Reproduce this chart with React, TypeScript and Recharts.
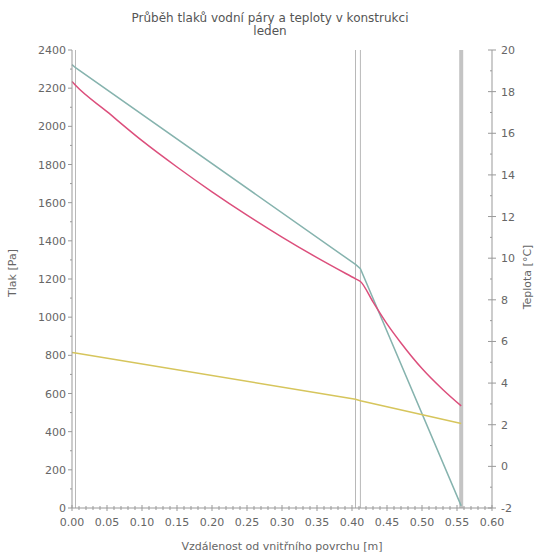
import React from "react";
import { ComposedChart, Line, XAxis, YAxis, ReferenceLine } from "recharts";

// Temperature profile (°C)
const tempX = [0, 0.005, 0.405, 0.412, 0.556];
const tempVals = [19.3, 19.15, 9.7, 9.5, -1.9];

// Saturated vapour pressure (Pa)
const satX = [0, 0.005, 0.05, 0.1, 0.15, 0.2, 0.25, 0.3, 0.35, 0.405, 0.412, 0.43, 0.45, 0.47, 0.5, 0.53, 0.556];
const satVals = [2235, 2215, 2077, 1925, 1787, 1657, 1535, 1420, 1312, 1201, 1187, 1080, 965, 865, 731, 620, 535];

// Partial vapour pressure (Pa)
const partX = [0, 0.005, 0.405, 0.412, 0.556];
const partVals = [815, 812, 570, 562, 443];

// Layer boundaries (m)
const boundaries = [0.005, 0.405, 0.412];
const lastBoundary = 0.556;

const xMajor = [0, 0.05, 0.1, 0.15, 0.2, 0.25, 0.3, 0.35, 0.4, 0.45, 0.5, 0.55, 0.6];
const leftMajor = [0, 200, 400, 600, 800, 1000, 1200, 1400, 1600, 1800, 2000, 2200, 2400];
const rightMajor = [-2, 0, 2, 4, 6, 8, 10, 12, 14, 16, 18, 20];

const title1 = "Průběh tlaků vodní páry a teploty v konstrukci";
const title2 = "leden";
const xLabel = "Vzdálenost od vnitřního povrchu [m]";
const leftLabel = "Tlak [Pa]";
const rightLabel = "Teplota [°C]";

const zip = (xs: number[], ys: number[]) => xs.map((x, i) => ({ x, v: ys[i] }));
const tempData = zip(tempX, tempVals);
const satData = zip(satX, satVals);
const partData = zip(partX, partVals);

const xTicks: number[] = [];
for (let i = 0; i <= 60; i++) xTicks.push(i / 100);
const leftTicks: number[] = [];
for (let i = 0; i <= 24; i++) leftTicks.push(i * 100);
const rightTicks: number[] = [];
for (let i = -2; i <= 20; i++) rightTicks.push(i);

const FONT = "DejaVu Sans, sans-serif";
const TXT = "#666";
const AX = "#999";

const isMajor = (v: number, list: number[]) => list.some((m) => Math.abs(m - v) < 1e-9);

const XTick = (p: any) => {
  const v = p.payload.value;
  const major = isMajor(v, xMajor);
  return (
    <g>
      <line x1={p.x} x2={p.x} y1={p.y - (major ? 3 : 2)} y2={p.y + (major ? 3 : 2)} stroke={AX} />
      {major && (
        <text x={p.x} y={p.y + 18} textAnchor="middle" fontSize={11} fill={TXT} fontFamily={FONT}>
          {v.toFixed(2)}
        </text>
      )}
    </g>
  );
};

const LTick = (p: any) => {
  const v = p.payload.value;
  const major = isMajor(v, leftMajor);
  return (
    <g>
      <line x1={p.x - (major ? 4 : 2)} x2={p.x} y1={p.y} y2={p.y} stroke={AX} />
      {major && (
        <text x={p.x - 6} y={p.y + 4} textAnchor="end" fontSize={11} fill={TXT} fontFamily={FONT}>
          {v}
        </text>
      )}
    </g>
  );
};

const RTick = (p: any) => {
  const v = p.payload.value;
  const major = isMajor(v, rightMajor);
  return (
    <g>
      <line x1={p.x - (major ? 4 : 2)} x2={p.x + (major ? 4 : 0)} y1={p.y} y2={p.y} stroke={AX} />
      {major && (
        <text x={p.x + 9} y={p.y + 4} textAnchor="start" fontSize={11} fill={TXT} fontFamily={FONT}>
          {v}
        </text>
      )}
    </g>
  );
};

export default function App() {
  return (
    <div style={{ position: "absolute", left: 0, top: 0, width: 537, height: 554, background: "#fff" }}>
      <ComposedChart width={537} height={554} margin={{ top: 50, right: 0, bottom: 16, left: 12 }}>
        <XAxis
          dataKey="x"
          type="number"
          domain={[0, 0.6]}
          ticks={xTicks}
          interval={0}
          tick={<XTick />}
          tickLine={false}
          tickSize={0}
          tickMargin={0}
          height={30}
          stroke={AX}
          allowDuplicatedCategory={false}
        />
        <YAxis
          yAxisId="left"
          orientation="left"
          type="number"
          domain={[0, 2400]}
          ticks={leftTicks}
          interval={0}
          tick={<LTick />}
          tickLine={false}
          tickSize={0}
          tickMargin={0}
          width={60}
          stroke={AX}
        />
        <YAxis
          yAxisId="right"
          orientation="right"
          type="number"
          domain={[-2, 20]}
          ticks={rightTicks}
          interval={0}
          tick={<RTick />}
          tickLine={false}
          tickSize={0}
          tickMargin={0}
          width={45}
          stroke={AX}
        />
        {boundaries.map((b) => (
          <ReferenceLine key={b} x={b} yAxisId="left" stroke="#b8b8b8" strokeWidth={1} />
        ))}
        <ReferenceLine x={lastBoundary} yAxisId="left" stroke="#c4c4c4" strokeWidth={4} />
        <Line
          yAxisId="right"
          data={tempData}
          dataKey="v"
          stroke="#86b3ae"
          strokeWidth={1.5}
          dot={false}
          isAnimationActive={false}
        />
        <Line
          yAxisId="left"
          data={satData}
          dataKey="v"
          type="monotone"
          stroke="#dc4f7c"
          strokeWidth={1.5}
          dot={false}
          isAnimationActive={false}
        />
        <Line
          yAxisId="left"
          data={partData}
          dataKey="v"
          stroke="#d6c55c"
          strokeWidth={1.5}
          dot={false}
          isAnimationActive={false}
        />
      </ComposedChart>
      <svg width={537} height={554} style={{ position: "absolute", left: 0, top: 0, pointerEvents: "none" }}>
        <text x={270} y={22} textAnchor="middle" fontSize={12} fill="#555" fontFamily={FONT}>
          {title1}
        </text>
        <text x={270} y={35} textAnchor="middle" fontSize={12} fill="#555" fontFamily={FONT}>
          {title2}
        </text>
        <text x={282} y={550} textAnchor="middle" fontSize={11} fill={TXT} fontFamily={FONT}>
          {xLabel}
        </text>
        <text
          x={0}
          y={0}
          transform="translate(16,273) rotate(-90)"
          textAnchor="middle"
          fontSize={11}
          fill={TXT}
          fontFamily={FONT}
        >
          {leftLabel}
        </text>
        <text
          x={0}
          y={0}
          transform="translate(531,277) rotate(-90)"
          textAnchor="middle"
          fontSize={11}
          fill={TXT}
          fontFamily={FONT}
        >
          {rightLabel}
        </text>
      </svg>
    </div>
  );
}
